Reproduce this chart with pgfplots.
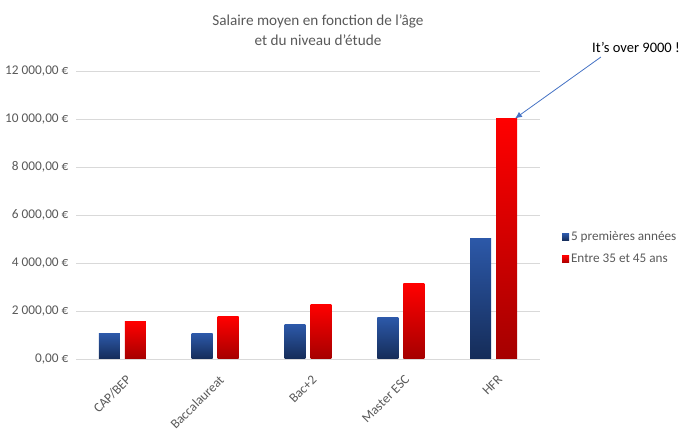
\documentclass[border=0pt]{standalone}
\usepackage{pgfplots}
\pgfplotsset{compat=1.18}
\usepackage{fontspec}
\setmainfont{Carlito}
\usetikzlibrary{arrows.meta}
\definecolor{txtgrey}{HTML}{595959}
\definecolor{gridgrey}{HTML}{D9D9D9}
\definecolor{bluetop}{HTML}{2C58A8}
\definecolor{bluebot}{HTML}{152C58}
\definecolor{redtop}{HTML}{FF0000}
\definecolor{redbot}{HTML}{A50000}
\definecolor{arrowblue}{HTML}{4472C4}
\pgfplotsset{
  bluebar/.style={ybar, bar width=0.226, bar shift=-0.14, draw=none, top color=bluetop, bottom color=bluebot},
  redbar/.style={ybar, bar width=0.226, bar shift=0.14, draw=none, top color=redtop, bottom color=redbot},
}
\begin{document}
\begin{tikzpicture}[x=1pt,y=1pt]
\path[use as bounding box] (0,0) rectangle (692,438);
\node[align=center, text=txtgrey, font=\fontsize{15.2}{20}\selectfont] at (318,408) {Salaire moyen en fonction de l'âge\\et du niveau d'étude};
\begin{axis}[
  at={(76pt,79pt)}, anchor=south west,
  scale only axis, width=464pt, height=288pt,
  xmin=-0.5, xmax=4.5, ymin=0, ymax=12000,
  axis line style={draw=none},
  scaled y ticks=false,
  ymajorgrids, grid style={gridgrey, line width=0.8pt},
  ytick={0,2000,4000,6000,8000,10000,12000},
  yticklabels={{0,00 €},{2 000,00 €},{4 000,00 €},{6 000,00 €},{8 000,00 €},{10 000,00 €},{12 000,00 €}},
  xtick={0,1,2,3,4},
  xticklabels={CAP/BEP, Baccalaureat, Bac+2, Master ESC, HFR},
  major tick length=0pt,
  tick label style={text=txtgrey, font=\fontsize{13.3}{15}\selectfont},
  yticklabel style={xshift=-4pt},
  xticklabel style={xshift=6.5pt, yshift=-18.5pt, rotate=45, anchor=east, inner sep=0pt},
  /pgf/number format/assume math mode=true,
  clip=false,
  legend style={at={(1.047,0.385)}, anchor=west, draw=none, fill=none,
     font=\fontsize{13.2}{15}\selectfont, text=txtgrey, row sep=8pt,
     inner sep=0pt, nodes={inner sep=2pt}},
  legend cell align=left,
  legend image code/.code={\path[#1] (0pt,-3.5pt) rectangle (7pt,3.5pt);},
  legend image post style={xshift=-3pt},
]
\addplot[bluebar] coordinates {(0,1050)};
\addlegendentry{5 premières années}
\addplot[redbar] coordinates {(0,1550)};
\addlegendentry{Entre 35 et 45 ans}
\addplot[bluebar, forget plot] coordinates {(1,1050)};
\addplot[bluebar, forget plot] coordinates {(2,1420)};
\addplot[bluebar, forget plot] coordinates {(3,1710)};
\addplot[bluebar, forget plot] coordinates {(4,5000)};
\addplot[redbar, forget plot] coordinates {(1,1750)};
\addplot[redbar, forget plot] coordinates {(2,2290)};
\addplot[redbar, forget plot] coordinates {(3,3125)};
\addplot[redbar, forget plot] coordinates {(4,10000)};
\draw[arrowblue, line width=0.8pt, -{Latex[length=7pt,width=6pt]}] (axis cs:5.157,12583) -- (axis cs:4.23,10020);
\node[anchor=west, inner sep=0pt, font=\fontsize{14.5}{16}\selectfont, text=black] at (axis cs:5.06,13000) {It's over 9000 !};
\end{axis}
\end{tikzpicture}
\end{document}
